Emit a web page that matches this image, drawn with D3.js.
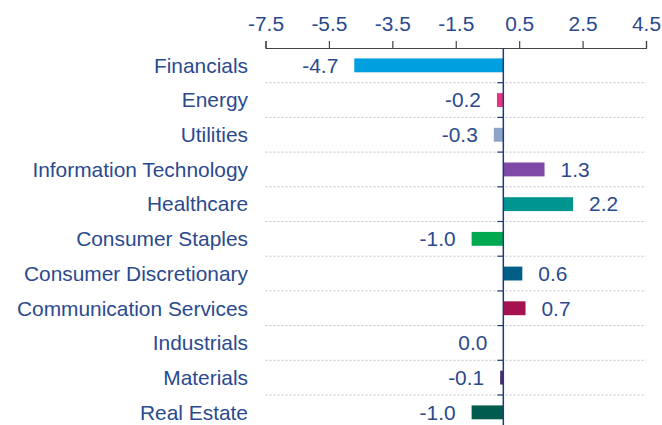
<!DOCTYPE html>
<html>
<head>
<meta charset="utf-8">
<script src="https://cdn.jsdelivr.net/npm/d3@7"></script>
<style>
  body { margin: 0; background: #fff; }
  svg text { font-family: "Liberation Sans", Arial, sans-serif; }
</style>
</head>
<body>
<svg id="chart" width="662" height="425"></svg>
<script>
// Sector contributions
const sectors = ['Financials', 'Energy', 'Utilities', 'Information Technology', 'Healthcare',
    'Consumer Staples', 'Consumer Discretionary', 'Communication Services', 'Industrials',
    'Materials', 'Real Estate'];
const values = [-4.7, -0.2, -0.3, 1.3, 2.2, -1.0, 0.6, 0.7, 0.0, -0.1, -1.0];
const barColors = ['#009fdf', '#e8347f', '#8ea3c8', '#7f49a8', '#00958f', '#00a94f',
    '#005f87', '#a6124f', '#6b8fc2', '#4b2a6e', '#005c4e'];
const xTicks = [-7.5, -5.5, -3.5, -1.5, 0.5, 2.5, 4.5];

const textColor = '#2b4a8e';
const fontSize = 20.9;

const svg = d3.select('#chart');
const margin = { top: 48, left: 265.5, right: 16 };
const width = 662;

// Scales
const x = d3.scaleLinear()
    .domain([-7.5, 4.5])
    .range([margin.left, width - margin.right]);

const y = d3.scaleBand()
    .domain(sectors)
    .range([margin.top, margin.top + sectors.length * 34.7])
    .paddingInner(0.6)
    .paddingOuter(0.3);

const step = y.step();

// Dashed gridlines between categories
svg.append('g')
    .selectAll('line')
    .data(sectors.slice(1))
    .enter()
    .append('line')
    .attr('x1', x(-7.5))
    .attr('x2', x(4.5))
    .attr('y1', d => y(d) - (step - y.bandwidth()) / 2)
    .attr('y2', d => y(d) - (step - y.bandwidth()) / 2)
    .attr('stroke', '#c4c4c4')
    .attr('stroke-width', 1)
    .attr('stroke-dasharray', '2,2');

// Top axis
const xAxis = svg.append('g')
    .attr('transform', `translate(0,${margin.top})`)
    .call(d3.axisTop(x).tickValues(xTicks).tickSize(7).tickPadding(10)
        .tickFormat(d3.format('.1f')));
xAxis.select('.domain').attr('stroke', '#444').attr('stroke-width', 1.2);
xAxis.selectAll('.tick line').attr('stroke', '#444').attr('stroke-width', 1.2);
xAxis.selectAll('.tick text')
    .attr('fill', textColor)
    .style('font-size', fontSize + 'px')
    .text(d => d3.format('.1f')(d).replace('−', '-'));

// Bars
svg.append('g')
    .selectAll('rect')
    .data(values)
    .enter()
    .append('rect')
    .attr('x', d => x(Math.min(0, d)))
    .attr('y', (d, i) => y(sectors[i]))
    .attr('width', d => Math.abs(x(d) - x(0)))
    .attr('height', y.bandwidth())
    .attr('fill', (d, i) => barColors[i]);

// Zero line with small ticks at band boundaries
svg.append('line')
    .attr('x1', x(0))
    .attr('x2', x(0))
    .attr('y1', margin.top)
    .attr('y2', 425)
    .attr('stroke', '#1f3c7a')
    .attr('stroke-width', 1.5);

svg.append('g')
    .selectAll('line')
    .data(sectors.slice(1))
    .enter()
    .append('line')
    .attr('x1', x(0) - 6)
    .attr('x2', x(0))
    .attr('y1', d => y(d) - (step - y.bandwidth()) / 2)
    .attr('y2', d => y(d) - (step - y.bandwidth()) / 2)
    .attr('stroke', '#1f3c7a')
    .attr('stroke-width', 1.2);

// Category labels
svg.append('g')
    .selectAll('text')
    .data(sectors)
    .enter()
    .append('text')
    .attr('x', 248)
    .attr('y', d => y(d) + y.bandwidth() / 2)
    .attr('dy', '0.35em')
    .attr('text-anchor', 'end')
    .attr('fill', textColor)
    .style('font-size', fontSize + 'px')
    .text(d => d);

// Value labels
svg.append('g')
    .selectAll('text')
    .data(values)
    .enter()
    .append('text')
    .attr('x', d => d > 0 ? x(d) + 16 : x(d) - 16)
    .attr('y', (d, i) => y(sectors[i]) + y.bandwidth() / 2)
    .attr('dy', '0.35em')
    .attr('text-anchor', d => d > 0 ? 'start' : 'end')
    .attr('fill', textColor)
    .style('font-size', fontSize + 'px')
    .text(d => d3.format('.1f')(d).replace('−', '-'));
</script>
</body>
</html>
